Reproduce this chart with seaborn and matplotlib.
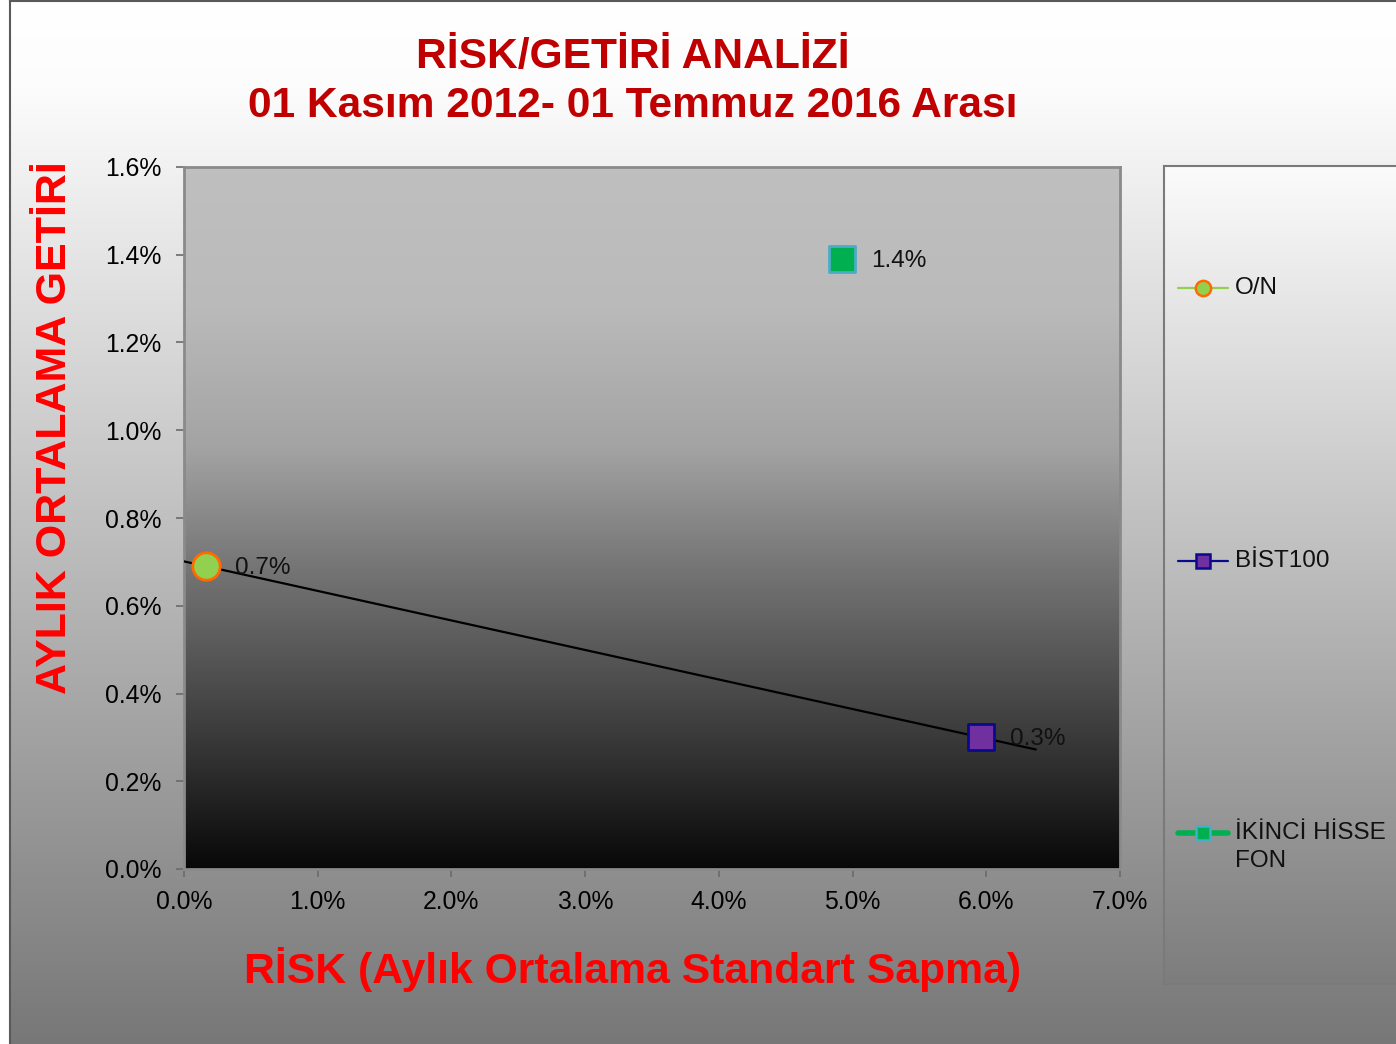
import numpy as np
import pandas as pd
import seaborn as sns
import matplotlib.pyplot as plt
from matplotlib.ticker import FuncFormatter, MultipleLocator

# values (percent)
series = ['O/N', 'BİST100', 'İKİNCİ HİSSE\nFON']
risk = [0.165, 5.96, 4.92]
ret = [0.69, 0.30, 1.39]
value_labels = ['0.7%', '0.3%', '1.4%']

face_colors = ['#92d050', '#7030a0', '#00b050']
edge_colors = ['#ff6a00', '#0a0a8c', '#4bacc6']
line_colors = ['#92d050', '#0a0a8c', '#00b050']
marker_kinds = ['o', 's', 's']

df = pd.DataFrame({'series': series, 'risk': risk, 'ret': ret, 'label': value_labels})

sns.set_style('ticks')
plt.rcParams['font.family'] = ['Liberation Sans', 'DejaVu Sans']

W, H = 1396, 1044
fig = plt.figure(figsize=(W / 100, H / 100), dpi=100)


def vgrad(ts, vs, n=512):
    t = np.linspace(0, 1, n)
    g = np.interp(t, ts, vs)
    return np.repeat(g[:, None, None], 3, axis=2)


def px_rect(x0, y0, x1, y1):
    return [x0 / W, 1 - y1 / H, (x1 - x0) / W, (y1 - y0) / H]


# outer chart background
bg = fig.add_axes(px_rect(10, 1, W + 5, H + 5), zorder=-10)
bg.imshow(vgrad([0, 0.08, 1], [1.0, 0.99, 0.465]), extent=[0, 1, 0, 1], aspect='auto')
bg.set_xlim(0, 1)
bg.set_ylim(0, 1)
bg.set_xticks([])
bg.set_yticks([])
for side in ['right', 'bottom']:
    bg.spines[side].set_visible(False)
for side in ['left', 'top']:
    bg.spines[side].set_color('#5a5a5a')
    bg.spines[side].set_linewidth(1.5)

# plot-area gradient
rect = px_rect(184, 167, 1120, 869)
pg = fig.add_axes(rect, zorder=0)
pg.imshow(vgrad([0, 0.2, 0.4, 0.56, 0.81, 1], [0.75, 0.73, 0.64, 0.47, 0.23, 0.03]),
          extent=[0, 1, 0, 1], aspect='auto')
pg.axis('off')

ax = fig.add_axes(rect, zorder=1)
ax.patch.set_alpha(0)

# trend line through O/N and BİST100
k, b = np.polyfit(risk[:2], ret[:2], 1)
tx = np.array([0.0, 6.37])
sns.lineplot(x=tx, y=k * tx + b, ax=ax, color='black', lw=1.6, zorder=3)

for i, row in df.iterrows():
    sns.scatterplot(data=df.iloc[[i]], x='risk', y='ret', ax=ax, marker=marker_kinds[i],
                    s=390 if marker_kinds[i] == 'o' else 345, color=face_colors[i],
                    edgecolor=edge_colors[i], linewidth=2.0, zorder=4, legend=False)
    ax.annotate(row['label'], (row['risk'], row['ret']), xytext=(21, -1),
                textcoords='offset points', va='center', ha='left', fontsize=17.5,
                color='#111111', zorder=5)

ax.set_xlim(0, 7)
ax.set_ylim(0, 1.6)
ax.xaxis.set_major_locator(MultipleLocator(1))
ax.yaxis.set_major_locator(MultipleLocator(0.2))
ax.xaxis.set_major_formatter(FuncFormatter(lambda v, p: f'{v:.1f}%'))
ax.yaxis.set_major_formatter(FuncFormatter(lambda v, p: f'{v:.1f}%'))
ax.tick_params(axis='y', length=6, width=1.2, color='#6a6a6a', pad=10.5, labelsize=17.8,
               labelcolor='black')
ax.tick_params(axis='x', length=6, width=1.2, color='#6a6a6a', pad=9, labelsize=17.8,
               labelcolor='black')
for side in ax.spines.values():
    side.set_color('#8a8a8a')
    side.set_linewidth(2)
ax.set_xlabel('')
ax.set_ylabel('')

fig.text(633 / W, 1 - 57 / H, 'RİSK/GETİRİ ANALİZİ', ha='center', va='center',
         fontsize=30.6, fontweight='bold', color='#c00000')
fig.text(633 / W, 1 - 106 / H, '01 Kasım 2012- 01 Temmuz 2016 Arası', ha='center',
         va='center', fontsize=30.6, fontweight='bold', color='#c00000')
fig.text(633 / W, 1 - 969 / H, 'RİSK (Aylık Ortalama Standart Sapma)', ha='center',
         va='center', fontsize=30.8, fontweight='bold', color='#ff0000')
fig.text(55 / W, 1 - 428 / H, 'AYLIK ORTALAMA GETİRİ', ha='center', va='center',
         rotation=90, fontsize=31, fontweight='bold', color='#ff0000')

# legend box
lx0, ly0, lx1, ly1 = 1164, 166, 1404, 984
lg = fig.add_axes(px_rect(lx0, ly0, lx1, ly1), zorder=2)
lg.imshow(vgrad([0, 1], [0.985, 0.49]), extent=[0, lx1 - lx0, ly1 - ly0, 0], aspect='auto')
lg.set_xlim(0, lx1 - lx0)
lg.set_ylim(ly1 - ly0, 0)
lg.set_xticks([])
lg.set_yticks([])
for side in lg.spines.values():
    side.set_color('#7a7a7a')
    side.set_linewidth(1.5)

legend_y = [122, 395, 667]
legend_lw = [1.6, 1.6, 4.0]
legend_ms = [11, 10, 10]
for i, name in enumerate(series):
    yy = legend_y[i]
    lg.plot([14, 64], [yy, yy], color=line_colors[i], lw=legend_lw[i], solid_capstyle='round')
    lg.plot([39], [yy], marker=marker_kinds[i], ms=legend_ms[i], mfc=face_colors[i],
            mec=edge_colors[i], mew=1.8, ls='none')
    lg.text(71, yy - 11, name, ha='left', va='top', fontsize=17.5, color='#111111',
            linespacing=1.35)

fig.savefig('out.png', dpi=100)
